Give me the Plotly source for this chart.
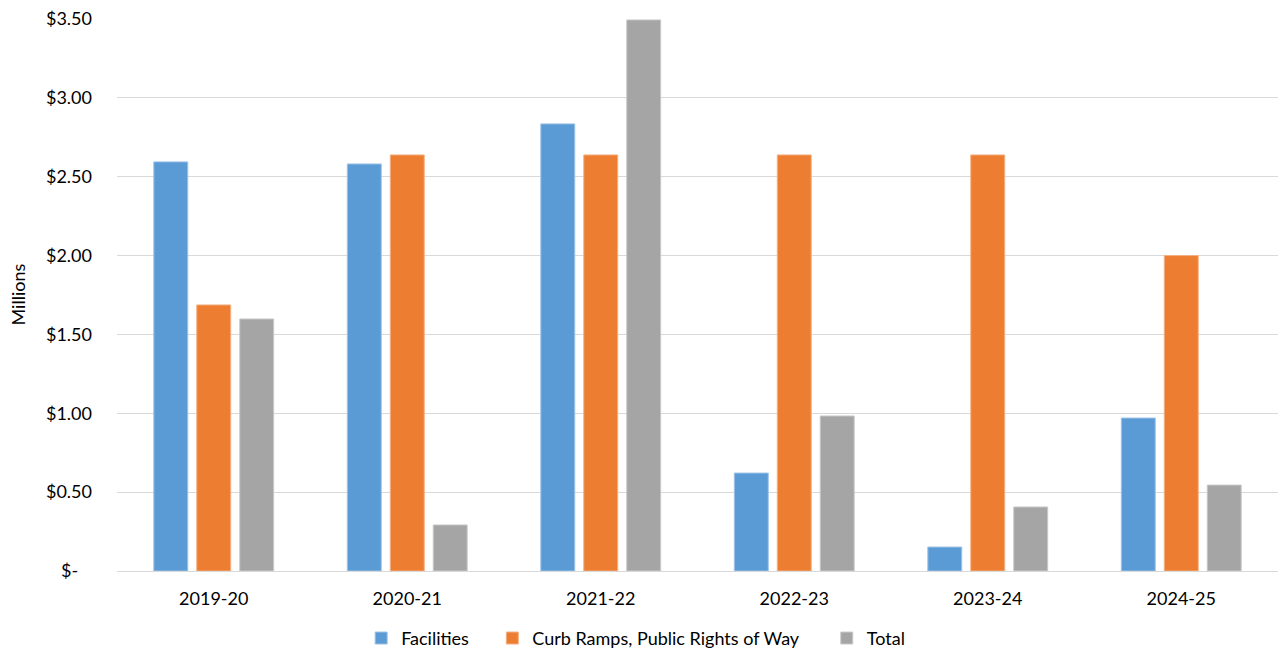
import plotly.graph_objects as go

categories = ["2019-20", "2020-21", "2021-22", "2022-23", "2023-24", "2024-25"]
facilities = [2.594, 2.581, 2.835, 0.621, 0.152, 0.970]
curb_ramps = [1.687, 2.638, 2.638, 2.638, 2.638, 2.000]
total = [1.598, 0.292, 3.494, 0.983, 0.406, 0.545]

tick_vals = [0, 0.5, 1.0, 1.5, 2.0, 2.5, 3.0, 3.5]
tick_text = ["$-\u00a0\u00a0\u00a0", "$0.50", "$1.00", "$1.50", "$2.00", "$2.50", "$3.00", "$3.50"]

NB = "\u00a0"
series = [
    ("Facilities" + NB * 4, facilities, "#5B9BD5", "#9DC3E6"),
    ("Curb Ramps, Public Rights of Way" + NB * 5, curb_ramps, "#ED7D31", "#F4B183"),
    ("Total", total, "#A5A5A5", "#C9C9C9"),
]

fig = go.Figure()
for name, vals, col, edge in series:
    fig.add_trace(go.Bar(
        name=name, x=categories, y=vals,
        marker=dict(color=col, line=dict(color=edge, width=1)),
    ))

font = "Lato, Calibri, 'Open Sans', sans-serif"
fig.update_layout(
    width=1279, height=651,
    margin=dict(l=117, r=1, t=19, b=80, autoexpand=False),
    paper_bgcolor="white", plot_bgcolor="white",
    barmode="group", bargap=0.334, bargroupgap=0.21,
    font=dict(family=font, size=18, color="#000000"),
    legend=dict(orientation="h", xref="container", x=0.497, xanchor="center",
                yref="paper", y=-0.122, yanchor="middle",
                font=dict(size=18), traceorder="normal"),
    xaxis=dict(showgrid=False, showline=True, linecolor="#D9D9D9", linewidth=1,
               ticks="", ticklabelstandoff=11, tickfont=dict(size=18),
               automargin=False),
    yaxis=dict(range=[0, 3.5], tickvals=tick_vals, ticktext=tick_text,
               showgrid=True, gridcolor="#D9D9D9", gridwidth=1,
               zeroline=True, zerolinecolor="#D9D9D9", zerolinewidth=1,
               showline=False, ticks="", ticklabelstandoff=24,
               tickfont=dict(size=18), automargin=False),
    annotations=[dict(text="Millions", textangle=-90, showarrow=False,
                      xref="paper", yref="paper", x=-0.0857, y=0.5,
                      xanchor="center", yanchor="middle",
                      font=dict(size=18))],
)

fig.write_html("out.html")
